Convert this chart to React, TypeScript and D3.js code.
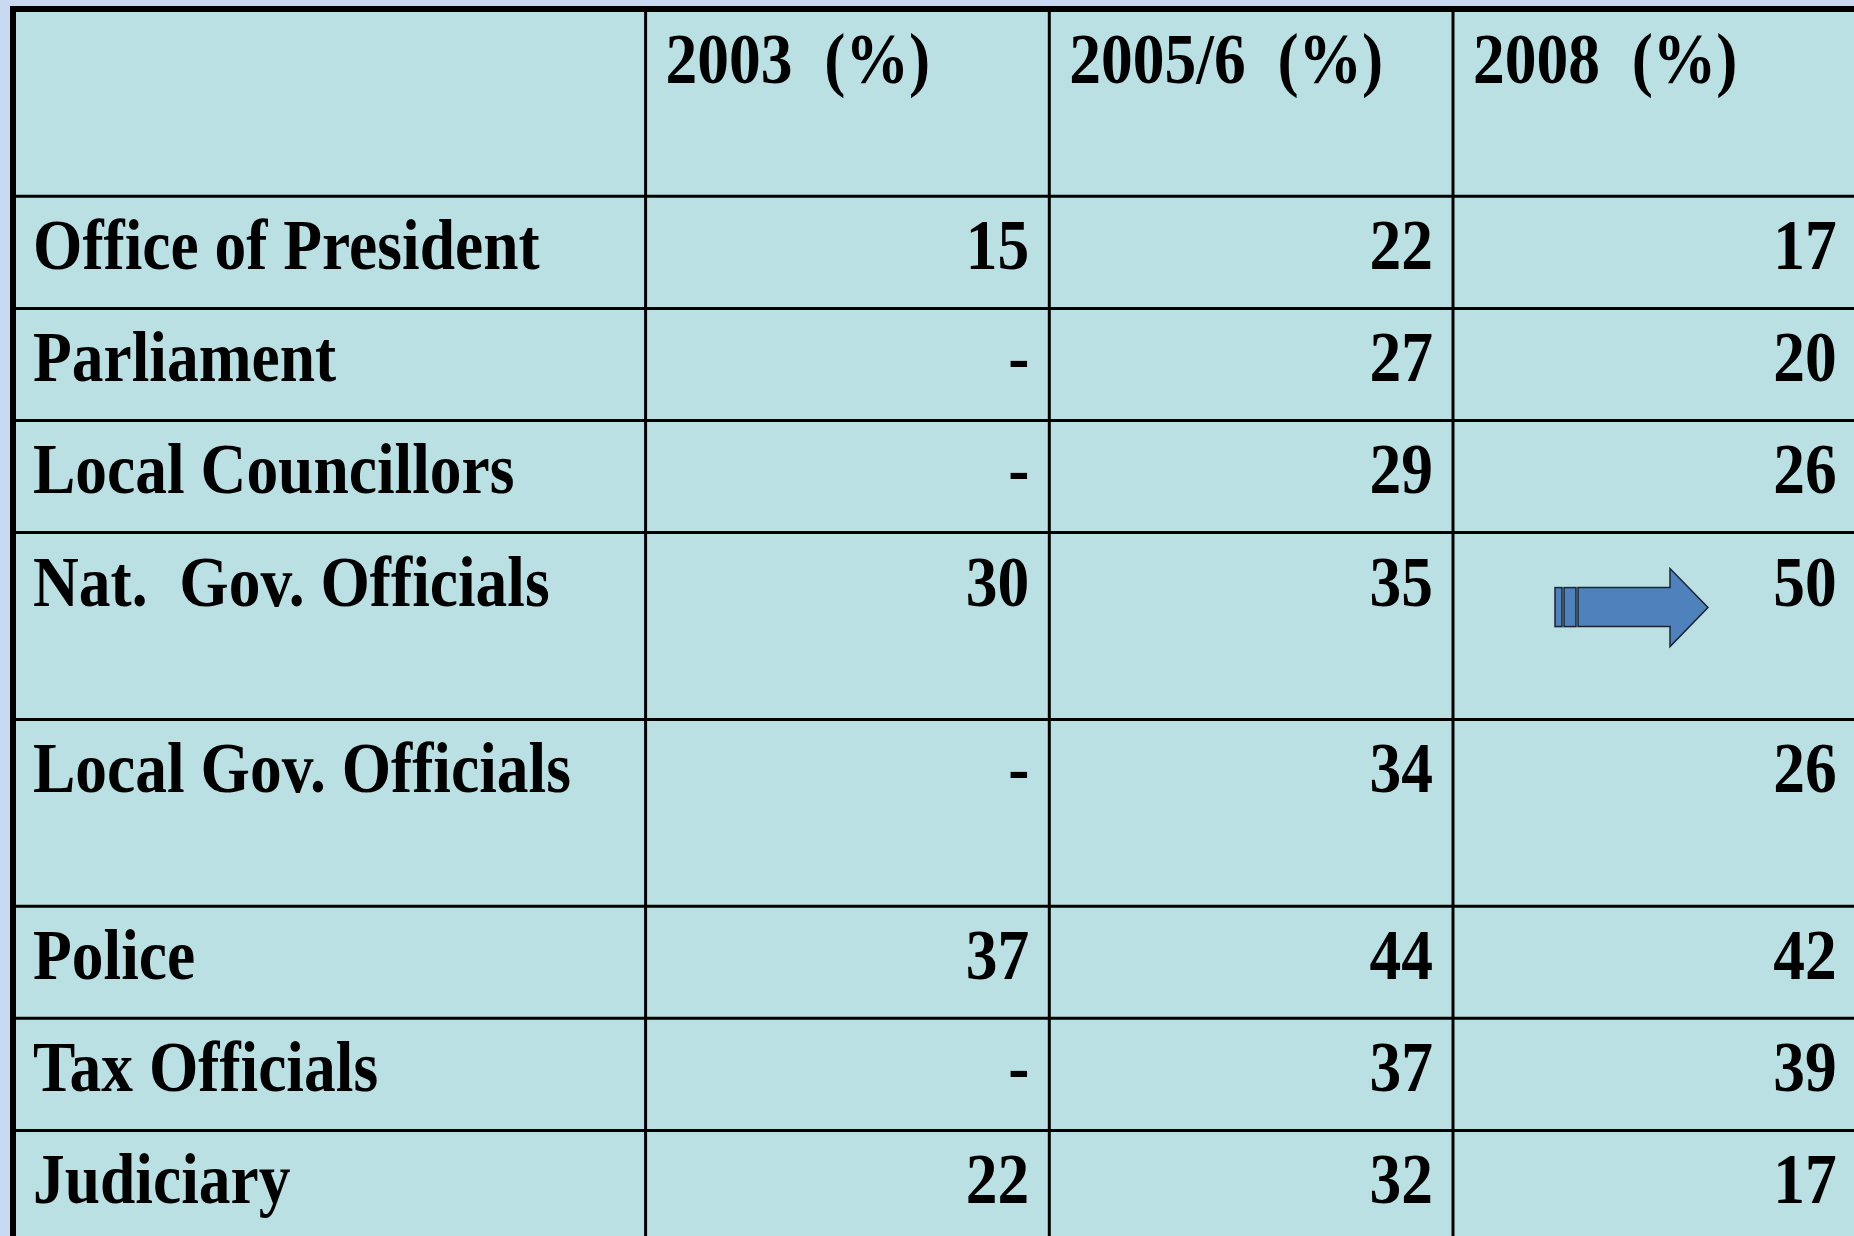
import React from 'react';
import * as d3 from 'd3';

// table content
const years = ['2003  (%)', '2005/6  (%)', '2008  (%)'];
const institutions = [
  'Office of President',
  'Parliament',
  'Local Councillors',
  'Nat.  Gov. Officials',
  'Local Gov. Officials',
  'Police',
  'Tax Officials',
  'Judiciary',
];
const values2003 = ['15', '-', '-', '30', '-', '37', '-', '22'];
const values2005 = ['22', '27', '29', '35', '34', '44', '37', '32'];
const values2008 = ['17', '20', '26', '50', '26', '42', '39', '17'];
// rows drawn taller in the original slide
const tallRows = ['Nat.  Gov. Officials', 'Local Gov. Officials'];
const arrowRow = 'Nat.  Gov. Officials';

const W = 1854;
const H = 1236;
const BG = '#c8daf1';
const CELL = '#bae0e4';
const FONT = '"Liberation Serif", "Times New Roman", serif';
const FS = 63.5;
const STRETCH = 1.12;

const App: React.FC = () => {
  const columns = [values2003, values2005, values2008];

  // row units: normal rows 3, tall rows (and header) 5
  const units = institutions.map((d) => (tallRows.includes(d) ? 5 : 3));
  const starts: number[] = [];
  let acc = 5;
  units.forEach((u) => {
    starts.push(acc);
    acc += u;
  });
  const y = d3.scaleLinear().domain([0, 30]).range([9.5, 1130.4]);

  const left = 13;
  const labelRight = 645.6;
  const x = d3
    .scaleBand<string>()
    .domain(years)
    .range([labelRight, labelRight + 3 * 403.7]);

  const rowTops = starts.map((s) => y(s));
  const rowBottoms = starts.map((s, i) => y(s + units[i]));
  const hLines = [y(5), ...rowBottoms];

  const txt = (
    key: string,
    tx: number,
    ty: number,
    s: string,
    anchor: 'start' | 'end',
  ) => (
    <text
      key={key}
      transform={`translate(${tx},${ty}) scale(1,${STRETCH})`}
      textAnchor={anchor}
      fontFamily={FONT}
      fontWeight="bold"
      fontSize={FS}
      fill="#000"
      style={{ whiteSpace: 'pre' }}
    >
      {s}
    </text>
  );

  const ai = institutions.indexOf(arrowRow);
  const ax = (x(years[2]) as number) + 102;
  const ay = rowTops[ai] + 75;

  return (
    <svg
      width={W}
      height={H}
      style={{ position: 'absolute', left: 0, top: 0, display: 'block' }}
    >
      <rect x={0} y={0} width={W} height={H} fill={BG} />
      <rect x={left} y={9.5} width={W + 20} height={H + 20} fill={CELL} />

      {/* grid lines */}
      {hLines.map((v, i) => (
        <line key={'h' + i} x1={left} x2={W + 10} y1={v} y2={v} stroke="#000" strokeWidth={3} />
      ))}
      {years.map((yr) => (
        <line
          key={'v' + yr}
          x1={x(yr)}
          x2={x(yr)}
          y1={9.5}
          y2={H + 10}
          stroke="#000"
          strokeWidth={3}
        />
      ))}
      <line x1={x.range()[1]} x2={x.range()[1]} y1={9.5} y2={H + 10} stroke="#000" strokeWidth={3} />
      {/* outer border */}
      <line x1={left} x2={left} y1={6} y2={H + 10} stroke="#000" strokeWidth={6} />
      <line x1={10} x2={W + 10} y1={9} y2={9} stroke="#000" strokeWidth={6} />

      {/* header */}
      {years.map((yr) => txt('hd' + yr, (x(yr) as number) + 20, 83, yr, 'start'))}

      {/* body */}
      {institutions.map((name, i) => (
        <g key={name}>
          {txt('l' + i, left + 20, rowTops[i] + 73, name, 'start')}
          {columns.map((col, j) =>
            txt(
              'c' + i + j,
              (x(years[j]) as number) + x.bandwidth() - 20,
              rowTops[i] + 73,
              col[i],
              'end',
            ),
          )}
        </g>
      ))}

      {/* striped arrow */}
      <g stroke="#1a2433" strokeWidth={1.5} fill="#4f81bd">
        <rect x={ax} y={ay - 20} width={7} height={39} />
        <rect x={ax + 9} y={ay - 20} width={12} height={39} />
        <path
          d={`M${ax + 23},${ay - 20} H${ax + 115} V${ay - 39} L${ax + 153},${ay} L${ax + 115},${ay + 39} V${ay + 19} H${ax + 23} Z`}
        />
      </g>
    </svg>
  );
};

export default App;
